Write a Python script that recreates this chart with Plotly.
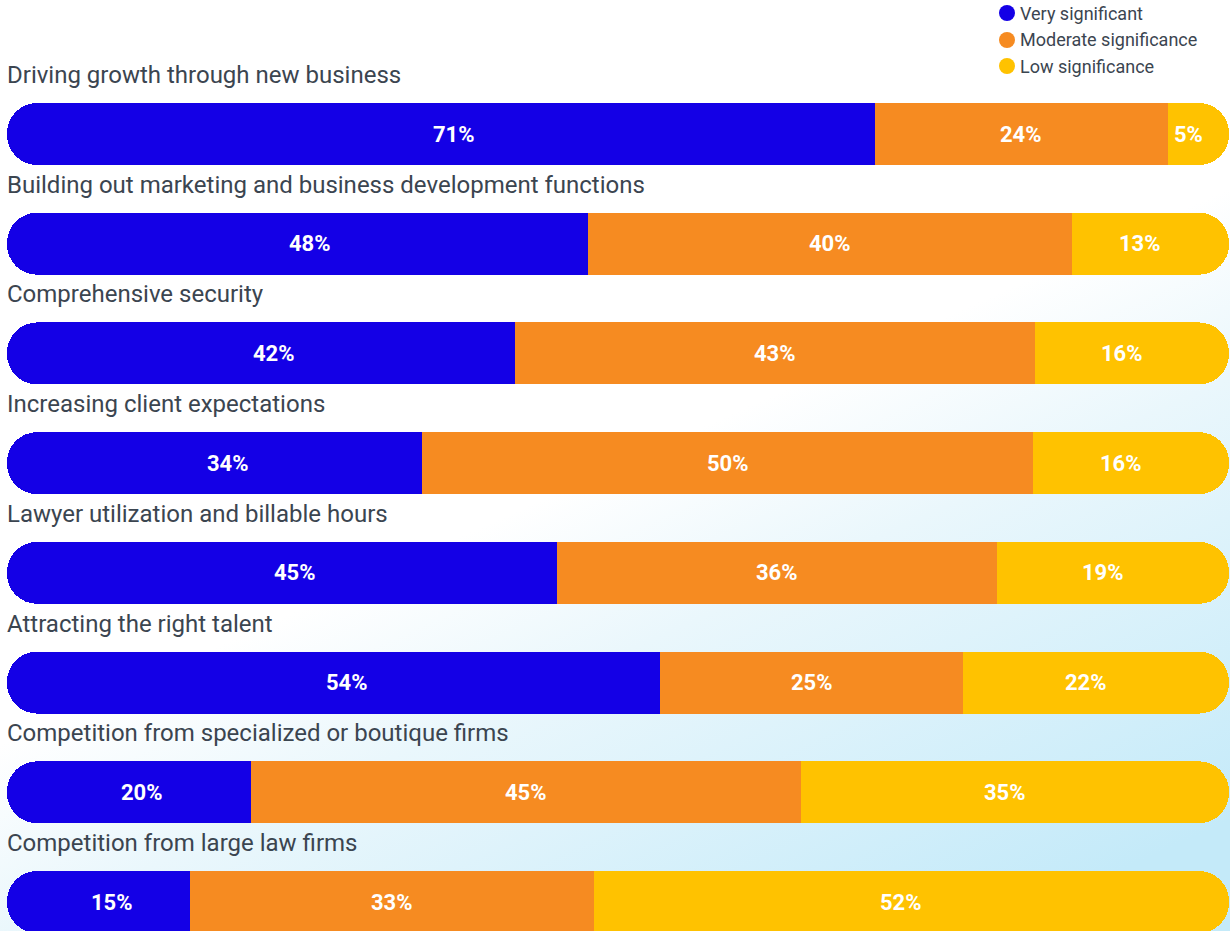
import base64
import plotly.graph_objects as go

categories = [
    "Driving growth through new business",
    "Building out marketing and business development functions",
    "Comprehensive security",
    "Increasing client expectations",
    "Lawyer utilization and billable hours",
    "Attracting the right talent",
    "Competition from specialized or boutique firms",
    "Competition from large law firms",
]
very_significant = [71, 48, 42, 34, 45, 54, 20, 15]
moderate_significance = [24, 40, 43, 50, 36, 25, 45, 33]
low_significance = [5, 13, 16, 16, 19, 22, 35, 52]

series_names = ["Very significant", "Moderate significance", "Low significance"]
colors = ["#1400E6", "#F68B21", "#FFC200"]
label_color = "#3B4550"
clear = "rgba(0,0,0,0)"

W, H = 1230, 931
ML, MR = 7, 1

# normalise each row so every bar spans the full width
totals = [a + b + c for a, b, c in zip(very_significant, moderate_significance, low_significance)]
v1 = [a / t * 100 for a, t in zip(very_significant, totals)]
v2 = [b / t * 100 for b, t in zip(moderate_significance, totals)]
v3 = [c / t * 100 for c, t in zip(low_significance, totals)]
ypos = list(range(len(categories)))

fig = go.Figure()
bar_w = 0.565


def bar(values, color, axis):
    return go.Bar(y=ypos, x=values, orientation="h", width=bar_w, xaxis=axis,
                  marker=dict(color=color, line=dict(width=0)),
                  showlegend=False, hoverinfo="skip")


# layer on the normal axis: only "low" is visible -> rounded right end
fig.add_trace(bar(v1, clear, "x"))
fig.add_trace(bar(v2, clear, "x"))
fig.add_trace(bar(v3, colors[2], "x"))
# layer on the reversed axis: stack grows leftwards -> rounded left end
fig.add_trace(bar(v3, clear, "x2"))
fig.add_trace(bar(v2, colors[1], "x2"))
fig.add_trace(bar(v1, colors[0], "x2"))

annotations = []
for i, cat in enumerate(categories):
    annotations.append(dict(
        x=0, y=i, xref="x", yref="y", text=cat, showarrow=False,
        xanchor="left", yanchor="middle", yshift=59, xshift=-2,
        font=dict(family="Roboto", size=24, color=label_color)))

pct_font = dict(family="Roboto", size=22, color="white", weight="bold")
for i in ypos:
    a, b, c = v1[i], v2[i], v3[i]
    for xc, shift, lab in (
        (a / 2, 13, very_significant[i]),
        (a + b / 2, 0, moderate_significance[i]),
        (a + b + c / 2, -10, low_significance[i]),
    ):
        annotations.append(dict(
            x=xc, y=i, xref="x", yref="y", text=f"{lab}%", showarrow=False,
            xanchor="center", yanchor="middle", xshift=shift,
            font=pct_font))

# legend (circle symbol + label), top right
shapes = []
legend_x_px, legend_y_px = [1007, 1007, 1007], [13, 40, 66]
pw, ph = W - ML - MR, H
for name, col, lx, ly in zip(series_names, colors, legend_x_px, legend_y_px):
    xp = (lx - ML) / pw
    yp = 1 - ly / ph
    shapes.append(dict(type="circle", xref="paper", yref="paper",
                       xsizemode="pixel", ysizemode="pixel",
                       xanchor=xp, yanchor=yp, x0=-8, x1=8, y0=-8, y1=8,
                       fillcolor=col, line=dict(width=0)))
    annotations.append(dict(
        x=(lx + 13 - ML) / pw, y=yp, xref="paper", yref="paper", text=name,
        showarrow=False, xanchor="left", yanchor="middle", xshift=-2,
        font=dict(family="Roboto", size=18, color=label_color)))

svg = (
    '<svg xmlns="http://www.w3.org/2000/svg" width="1230" height="931">'
    '<defs><linearGradient id="g" x1="0.5" y1="0.5" x2="0.8" y2="1">'
    '<stop offset="0" stop-color="#ffffff"/>'
    '<stop offset="0.3" stop-color="#eaf7fc"/>'
    '<stop offset="1" stop-color="#c4eaf9"/>'
    '</linearGradient></defs>'
    '<rect width="1230" height="931" fill="url(#g)"/></svg>'
)
bg = "data:image/svg+xml;base64," + base64.b64encode(svg.encode()).decode()

fig.update_layout(
    width=W, height=H,
    margin=dict(l=ML, r=MR, t=0, b=0),
    barmode="stack",
    barcornerradius=31,
    paper_bgcolor="white", plot_bgcolor="rgba(0,0,0,0)",
    xaxis=dict(range=[0, 100], visible=False, fixedrange=True),
    xaxis2=dict(range=[100, 0], visible=False, fixedrange=True,
                overlaying="x", anchor="y"),
    yaxis=dict(range=[7.2643, -1.2214], visible=False, fixedrange=True),
    annotations=annotations,
    shapes=shapes,
    showlegend=False,
    images=[dict(source=bg, xref="paper", yref="paper", x=-0.006, y=1,
                 sizex=1.01, sizey=1, xanchor="left", yanchor="top",
                 sizing="stretch", layer="below")],
)

fig.write_html("out.html")
